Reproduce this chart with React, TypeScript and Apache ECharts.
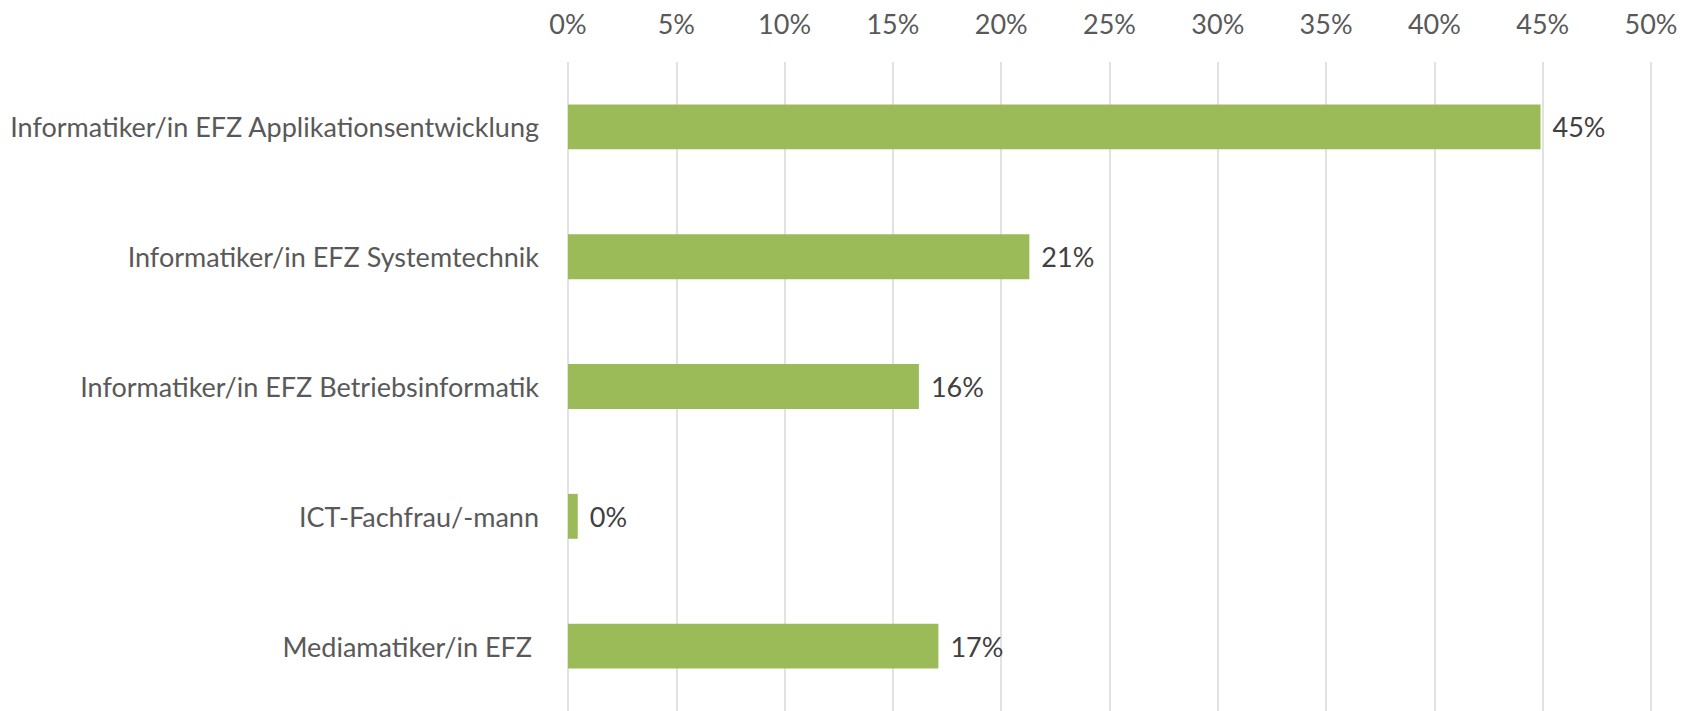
import React, { useEffect, useRef } from "react";
import * as echarts from "echarts";

const categories = [
  "Informatiker/in EFZ Applikationsentwicklung",
  "Informatiker/in EFZ Systemtechnik",
  "Informatiker/in EFZ Betriebsinformatik",
  "ICT-Fachfrau/-mann",
  "Mediamatiker/in EFZ ",
];
const shares = [44.9, 21.3, 16.2, 0.45, 17.1];
const axisMax = 50;
const axisStep = 5;

const FONT = "Lato, 'Noto Sans', sans-serif";
const TEXT = "#595959";

export default function App() {
  const ref = useRef<HTMLDivElement>(null);
  useEffect(() => {
    if (!ref.current) return;
    const chart = echarts.init(ref.current, null, { renderer: "svg" });
    chart.setOption({
      animation: false,
      backgroundColor: "#ffffff",
      grid: { left: 568, right: 39, top: 62, height: 652, containLabel: false },
      xAxis: {
        type: "value",
        position: "top",
        min: 0,
        max: axisMax,
        interval: axisStep,
        axisLine: { show: false },
        axisTick: { show: false },
        splitLine: { show: true, lineStyle: { color: "#D9D9D9", width: 1.5 } },
        axisLabel: {
          formatter: (v: number) => `${v}%`,
          color: TEXT,
          fontFamily: FONT,
          fontSize: 27,
          margin: 25,
        },
      },
      yAxis: {
        type: "category",
        data: categories,
        inverse: true,
        axisLine: { show: false },
        axisTick: { show: false },
        splitLine: { show: false },
        axisLabel: {
          color: TEXT,
          fontFamily: FONT,
          fontSize: 27,
          margin: 29,
        },
      },
      series: [
        {
          type: "bar",
          data: shares,
          barWidth: "34.6%",
          itemStyle: { color: "#9BBB59" },
          label: {
            show: true,
            position: "right",
            distance: 12,
            formatter: (p: any) => `${Math.round(p.value)}%`,
            color: "#404040",
            fontFamily: FONT,
            fontSize: 27,
          },
        },
      ],
    });
    return () => chart.dispose();
  }, []);
  return (
    <div
      ref={ref}
      style={{ position: "fixed", left: 0, top: 0, width: 1690, height: 711, background: "#fff" }}
    />
  );
}
